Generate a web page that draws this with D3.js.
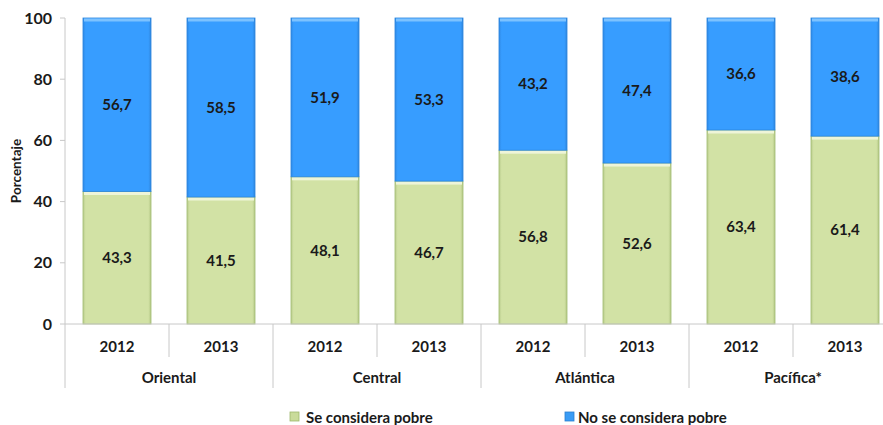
<!DOCTYPE html>
<html><head><meta charset="utf-8">
<script src="https://cdn.jsdelivr.net/npm/d3@7"></script>
<style>body{margin:0;background:#fff}svg{display:block}text{font-family:Lato,"Open Sans",sans-serif;font-weight:bold;fill:#1a1a1a}</style>
</head><body>
<svg id="c" width="883" height="425"></svg>
<script>
const regions = ["Oriental","Central","Atlántica","Pacífica*"];
const years = ["2012","2013"];
const sePobre = [43.3,41.5,48.1,46.7,56.8,52.6,63.4,61.4];
const noPobre = [56.7,58.5,51.9,53.3,43.2,47.4,36.6,38.6];
const yTicks = [0,20,40,60,80,100];
const seriesNames = ["Se considera pobre","No se considera pobre"];

const svg = d3.select("#c");
const W = 883, H = 425;
const m = {l:65, r:-14, t:18, b:101};
const x0 = m.l, x1 = W - m.r, y0 = H - m.b, y1 = m.t;

const cats = [];
regions.forEach(r => years.forEach(yv => cats.push(r + "|" + yv)));
const x = d3.scaleBand().domain(cats).range([x0, x1]).paddingInner(0.346).paddingOuter(0.173);
const xr = d3.scaleBand().domain(regions).range([x0, x1]);
const y = d3.scaleLinear().domain([0,100]).range([y0, y1]);

const defs = svg.append("defs");
function grad(id, c1, c2, c3){
  const g = defs.append("linearGradient").attr("id",id).attr("x1",0).attr("x2",1).attr("y1",0).attr("y2",0);
  g.append("stop").attr("offset","0%").attr("stop-color",c1);
  g.append("stop").attr("offset","4%").attr("stop-color",c2);
  g.append("stop").attr("offset","96%").attr("stop-color",c2);
  g.append("stop").attr("offset","100%").attr("stop-color",c3);
}
grad("gb","#2f8ae6","#379dff","#2f86de");
grad("gg","#b9cc8c","#d2e2a5","#b4c886");

// y axis
svg.append("line").attr("x1",x0).attr("x2",x0).attr("y1",y1).attr("y2",y0).attr("stroke","#c8c8c8");
const yt = svg.append("g");
yTicks.forEach(t => {
  yt.append("line").attr("x1",x0-5).attr("x2",x0).attr("y1",y(t)).attr("y2",y(t)).attr("stroke","#c8c8c8");
  yt.append("text").attr("x",x0-13).attr("y",y(t)).attr("dy","0.35em").attr("text-anchor","end")
    .style("font-size","16px").text(t);
});
svg.append("text").attr("transform",`translate(21,${(y0+y1)/2}) rotate(-90)`).attr("text-anchor","middle")
  .style("font-size","13.5px").text("Porcentaje");

// bars
const data = cats.map((c,i)=>({c, a:sePobre[i], b:noPobre[i]}));
const bw = x.bandwidth();
const g = svg.append("g");
const fmt = v => v.toFixed(1).replace(".",",");
data.forEach(d => {
  const bx = x(d.c);
  g.append("rect").attr("x",bx).attr("y",y(d.a)).attr("width",bw).attr("height",y(0)-y(d.a))
    .attr("fill","url(#gg)").attr("stroke","#a3bd73").attr("stroke-width",0.8);
  g.append("rect").attr("x",bx+1).attr("y",y(d.a)+0.5).attr("width",bw-2).attr("height",3)
    .attr("fill","#eef5d8");
  g.append("rect").attr("x",bx).attr("y",y(d.a+d.b)).attr("width",bw).attr("height",y(d.a)-y(d.a+d.b))
    .attr("fill","url(#gb)").attr("stroke","#2c86dd").attr("stroke-width",0.8);
  g.append("rect").attr("x",bx+1).attr("y",y(d.a+d.b)+0.5).attr("width",bw-2).attr("height",3)
    .attr("fill","#7cc2ff");
  g.append("text").attr("x",bx+bw/2).attr("y",(y(0)+y(d.a))/2).attr("dy","0.35em")
    .attr("text-anchor","middle").style("font-size","15px").text(fmt(d.a));
  g.append("text").attr("x",bx+bw/2).attr("y",(y(d.a)+y(d.a+d.b))/2).attr("dy","0.35em")
    .attr("text-anchor","middle").style("font-size","15px").text(fmt(d.b));
});

// category axis
svg.append("line").attr("x1",x0).attr("x2",x1).attr("y1",y0).attr("y2",y0).attr("stroke","#c8c8c8");
const ax = svg.append("g");
regions.forEach((r,i) => {
  const rx = xr(r);
  ax.append("line").attr("x1",rx).attr("x2",rx).attr("y1",y0).attr("y2",y0+64).attr("stroke","#c8c8c8");
  const mid = rx + xr.bandwidth()/2;
  ax.append("line").attr("x1",mid).attr("x2",mid).attr("y1",y0).attr("y2",y0+33).attr("stroke","#c8c8c8");
  ax.append("text").attr("x",mid).attr("y",y0+54).attr("dy","0.35em").attr("text-anchor","middle")
    .style("font-size","15px").text(r);
  years.forEach(yv => {
    const c = r+"|"+yv;
    ax.append("text").attr("x",x(c)+bw/2).attr("y",y0+23).attr("dy","0.35em").attr("text-anchor","middle")
      .style("font-size","15px").text(yv);
  });
});
ax.append("line").attr("x1",x1).attr("x2",x1).attr("y1",y0).attr("y2",y0+64).attr("stroke","#c8c8c8");

// legend
const leg = [{n:seriesNames[0], f:"#c9db9a", s:"#9fb86d", x:290, tx:306},
             {n:seriesNames[1], f:"#3a9cf5", s:"#2a7fd0", x:565, tx:578}];
leg.forEach(l => {
  svg.append("rect").attr("x",l.x).attr("y",412).attr("width",9).attr("height",9).attr("fill",l.f).attr("stroke",l.s).attr("stroke-width",0.8);
  svg.append("text").attr("x",l.tx).attr("y",423).style("font-size","15px").text(l.n);
});
</script>
</body></html>
